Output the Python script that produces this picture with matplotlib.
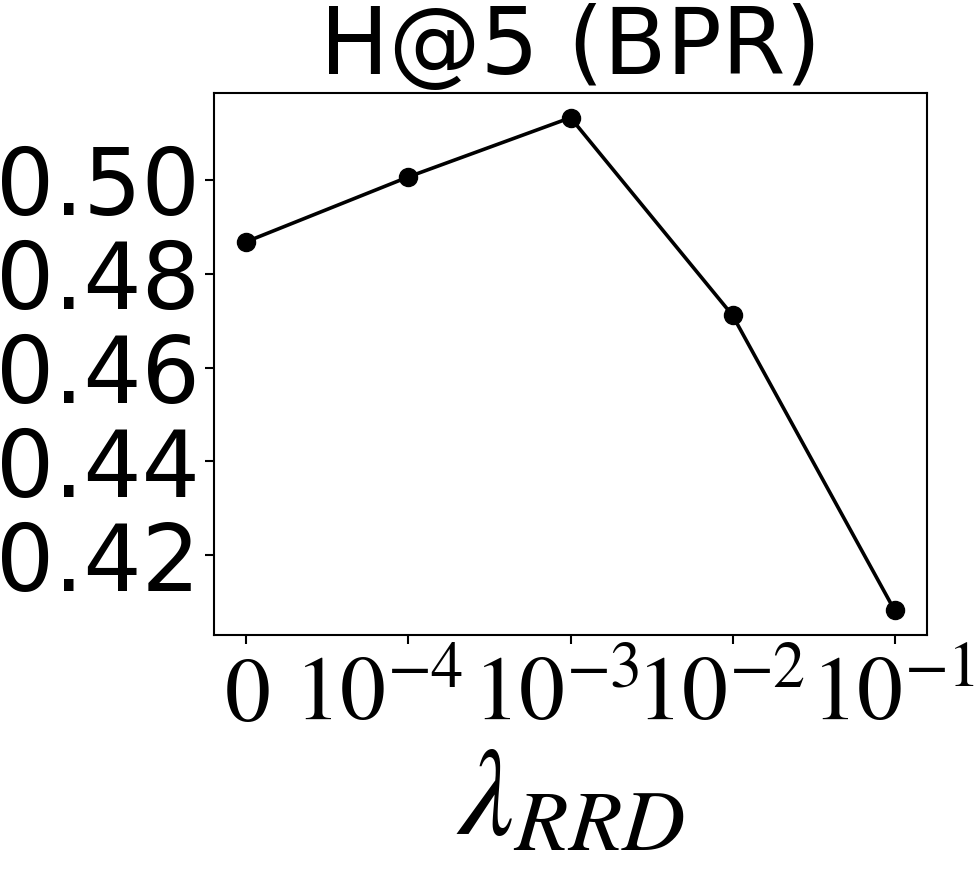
import matplotlib
matplotlib.use("Agg")
import matplotlib.pyplot as plt
from matplotlib.transforms import ScaledTranslation

plt.rcParams['mathtext.fontset'] = 'stix'

x_labels = ['$0$', '$10^{-4}$', '$10^{-3}$', '$10^{-2}$', '$10^{-1}$']
values = [0.4868, 0.5006, 0.5132, 0.4711, 0.4083]
y_ticks = [0.42, 0.44, 0.46, 0.48, 0.50]
title = 'H@5 (BPR)'
xlabel = r'$\lambda_{RRD}$'

DPI = 100
fig = plt.figure(figsize=(9.75, 8.72), dpi=DPI)
ax = fig.add_axes([0.2195, 0.2718, 0.7313, 0.6215])
xs = list(range(len(values)))
ax.plot(xs, values, color='black', linewidth=2.6, marker='o', markersize=13)
ax.set_xticks(xs)
ax.set_xticklabels(x_labels, fontsize=66)
ax.set_yticks(y_ticks)
ax.set_yticklabels([f'{v:.2f}' for v in y_ticks], fontsize=66)
ax.set_title(title, fontsize=66, pad=4)
ax.set_xlabel(xlabel, fontsize=90, labelpad=0)
for s in ax.spines.values():
    s.set_linewidth(1.5)
ax.tick_params(length=6.5, width=1.5, pad=4)

# small horizontal shifts of tick labels (pixels) as seen in the reference layout
shifts_px = [0, -30, -14, -12, -1]
for lab, dx in zip(ax.get_xticklabels(), shifts_px):
    lab.set_transform(lab.get_transform() + ScaledTranslation(dx / DPI, 0, fig.dpi_scale_trans))

fig.savefig('out.png', dpi=DPI)
